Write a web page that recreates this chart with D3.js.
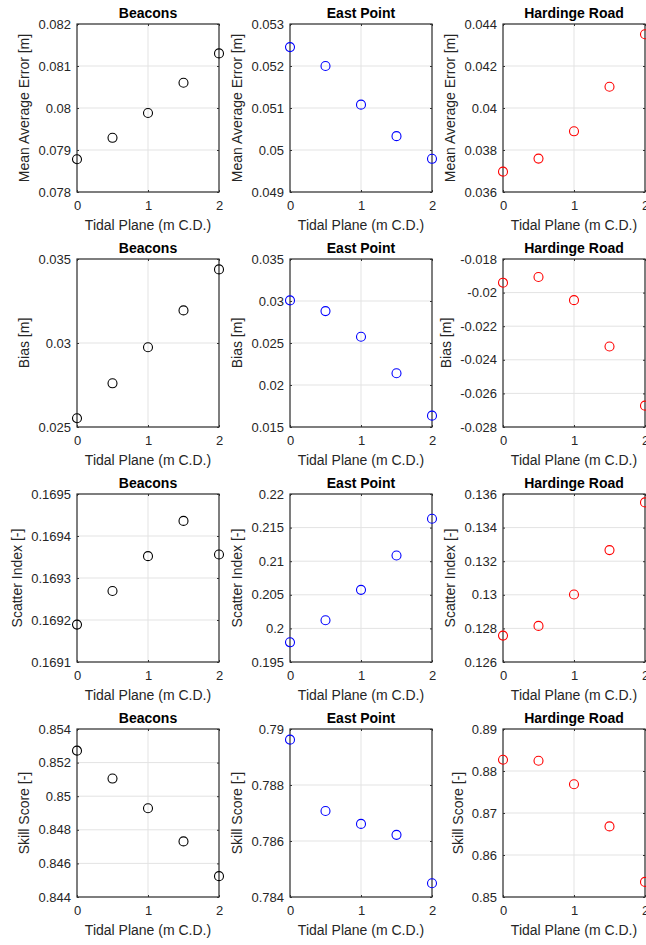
<!DOCTYPE html>
<html>
<head>
<meta charset="utf-8">
<script src="https://cdn.jsdelivr.net/npm/d3@7"></script>
<style>
  body { margin: 0; background: #fff; }
  text { font-family: "Liberation Sans", Arial, sans-serif; fill: #262626; }
</style>
</head>
<body>
<script>
var tidalPlane = [0, 0.5, 1, 1.5, 2];
var xTicks = [0, 1, 2];
var stations = ['Beacons', 'East Point', 'Hardinge Road'];
var stationColors = ['#000000', '#0000ff', '#ff0000'];
var metricLabels = ['Mean Average Error [m]', 'Bias [m]', 'Scatter Index [-]', 'Skill Score [-]'];

// values read per metric, per station
var maeBeacons = [0.07878, 0.07929, 0.07988, 0.0806, 0.0813];
var maeEastPoint = [0.05245, 0.05200, 0.05108, 0.05033, 0.04979];
var maeHardinge = [0.03697, 0.03759, 0.03889, 0.04101, 0.04351];

var biasBeacons = [0.02552, 0.02760, 0.02975, 0.03194, 0.03438];
var biasEastPoint = [0.03007, 0.02880, 0.02574, 0.02140, 0.01635];
var biasHardinge = [-0.01941, -0.01907, -0.02045, -0.02321, -0.02673];

var siBeacons = [0.169189, 0.169269, 0.169352, 0.169436, 0.169356];
var siEastPoint = [0.19793, 0.20121, 0.20574, 0.21085, 0.21632];
var siHardinge = [0.12757, 0.12815, 0.13002, 0.13266, 0.13550];

var ssBeacons = [0.85271, 0.85105, 0.84928, 0.84731, 0.84524];
var ssEastPoint = [0.78962, 0.78707, 0.78661, 0.78622, 0.78449];
var ssHardinge = [0.88267, 0.88243, 0.87685, 0.86681, 0.85359];

// y tick values per panel
var maeTicks = [
  [0.078, 0.079, 0.080, 0.081, 0.082],
  [0.049, 0.050, 0.051, 0.052, 0.053],
  [0.036, 0.038, 0.040, 0.042, 0.044]
];
var biasTicks = [
  [0.025, 0.030, 0.035],
  [0.015, 0.020, 0.025, 0.030, 0.035],
  [-0.028, -0.026, -0.024, -0.022, -0.020, -0.018]
];
var siTicks = [
  [0.1691, 0.1692, 0.1693, 0.1694, 0.1695],
  [0.195, 0.200, 0.205, 0.210, 0.215, 0.220],
  [0.126, 0.128, 0.130, 0.132, 0.134, 0.136]
];
var ssTicks = [
  [0.844, 0.846, 0.848, 0.850, 0.852, 0.854],
  [0.784, 0.786, 0.788, 0.790],
  [0.85, 0.86, 0.87, 0.88, 0.89]
];

var panelValues = [
  [maeBeacons, maeEastPoint, maeHardinge],
  [biasBeacons, biasEastPoint, biasHardinge],
  [siBeacons, siEastPoint, siHardinge],
  [ssBeacons, ssEastPoint, ssHardinge]
];
var panelTicks = [maeTicks, biasTicks, siTicks, ssTicks];

var colLeft = [77, 290, 503];
var rowTop = [24, 259, 494, 729];
var pw = 142, ph = 168;

var svg = d3.select('body').append('svg')
    .attr('width', 646)
    .attr('height', 945);

function fmt(v) { return String(+v.toFixed(6)); }

panelValues.forEach(function(row, r) {
  row.forEach(function(vals, c) {
    var ticks = panelTicks[r][c];
    var x = d3.scaleLinear().domain([0, 2]).range([0, pw]);
    var y = d3.scaleLinear().domain(d3.extent(ticks)).range([ph, 0]);

    var g = svg.append('g')
        .attr('transform', 'translate(' + colLeft[c] + ',' + rowTop[r] + ')');

    // grid
    g.selectAll('.gy').data(ticks).enter().append('line')
        .attr('x1', 0).attr('x2', pw)
        .attr('y1', function(d) { return y(d); })
        .attr('y2', function(d) { return y(d); })
        .attr('stroke', '#e3e3e3').attr('stroke-width', 1);
    g.selectAll('.gx').data(xTicks).enter().append('line')
        .attr('y1', 0).attr('y2', ph)
        .attr('x1', function(d) { return x(d); })
        .attr('x2', function(d) { return x(d); })
        .attr('stroke', '#e3e3e3').attr('stroke-width', 1);

    // axes with inward ticks
    var yAxis = d3.axisLeft(y).tickValues(ticks).tickSize(-2).tickPadding(6).tickFormat(fmt);
    var xAxis = d3.axisBottom(x).tickValues(xTicks).tickSize(-2).tickPadding(9).tickFormat(fmt);

    var ya = g.append('g').call(yAxis);
    var xa = g.append('g').attr('transform', 'translate(0,' + ph + ')').call(xAxis);
    g.append('g').attr('transform', 'translate(' + pw + ',0)')
        .call(d3.axisRight(y).tickValues(ticks).tickSize(-2).tickFormat(''));
    g.append('g')
        .call(d3.axisTop(x).tickValues(xTicks).tickSize(-2).tickFormat(''));

    g.selectAll('.domain').remove();
    g.selectAll('.tick line').attr('stroke', '#333');
    g.selectAll('.tick text')
        .style('font-size', '13px')
        .style('fill', '#262626');

    g.append('rect')
        .attr('width', pw).attr('height', ph)
        .attr('fill', 'none')
        .attr('stroke', '#333').attr('stroke-width', 1.2);

    // markers
    g.selectAll('.dot').data(vals).enter().append('circle')
        .attr('cx', function(d, i) { return x(tidalPlane[i]); })
        .attr('cy', function(d) { return y(d); })
        .attr('r', 4.5)
        .attr('fill', 'none')
        .attr('stroke', stationColors[c])
        .attr('stroke-width', 1.1);

    // title
    g.append('text')
        .attr('x', pw / 2).attr('y', -6)
        .attr('text-anchor', 'middle')
        .style('font-size', '14px')
        .style('font-weight', 'bold')
        .style('fill', '#000')
        .text(stations[c]);

    // x label
    g.append('text')
        .attr('x', pw / 2).attr('y', ph + 38)
        .attr('text-anchor', 'middle')
        .style('font-size', '14px')
        .text('Tidal Plane (m C.D.)');

    // y label, placed left of the widest tick label
    var maxW = 0;
    ya.selectAll('.tick text').each(function() {
      maxW = Math.max(maxW, this.getComputedTextLength());
    });
    var lx = -8 - maxW - 7;
    g.append('text')
        .attr('transform', 'translate(' + lx + ',' + (ph / 2) + ') rotate(-90)')
        .attr('text-anchor', 'middle')
        .style('font-size', '14px')
        .text(metricLabels[r]);
  });
});
</script>
</body>
</html>
